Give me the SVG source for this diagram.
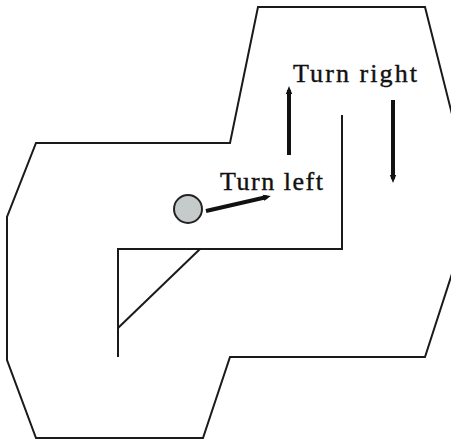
<svg xmlns="http://www.w3.org/2000/svg" width="451" height="440" viewBox="0 0 451 440">
<style>
.wall{fill:none;stroke:#1a1a1a;stroke-width:2;stroke-linejoin:miter}
.arr{fill:none;stroke:#111;stroke-width:4;marker-end:url(#ah)}
.lbl{font-family:"Liberation Serif",serif;font-size:26px;fill:#111;stroke:#111;stroke-width:0.4}
</style>
<defs>
<marker id="ah" markerWidth="3" markerHeight="3" refX="1" refY="1" orient="auto" markerUnits="strokeWidth">
<path d="M0,0.2 L2,1 L0,1.8 Z" fill="#111"/>
</marker>
</defs>
<rect width="451" height="440" fill="#fff"/>
<g id="walls">
<polygon class="wall" points="36,143 230,143 258,7 425,7 460,146 460,249 425,357 230,357 203,438 36,438 7,360 7,217"/>
<polyline class="wall" points="342,115 342,249 118,249 118,357"/>
<line class="wall" x1="200" y1="249" x2="118" y2="328"/>
</g>
<g id="ball">
<circle cx="188" cy="209" r="14" fill="#c5cbca" stroke="#222" stroke-width="2"/>
</g>
<g id="connectors">
<line class="arr" x1="206" y1="211" x2="267" y2="197"/>
<line class="arr" x1="289" y1="155" x2="289" y2="90"/>
<line class="arr" x1="393" y1="100" x2="393" y2="179"/>
</g>
<g id="labels">
<text class="lbl" x="293" y="82" textLength="124">Turn right</text>
<text class="lbl" x="220" y="190" textLength="103">Turn left</text>
</g>
</svg>
